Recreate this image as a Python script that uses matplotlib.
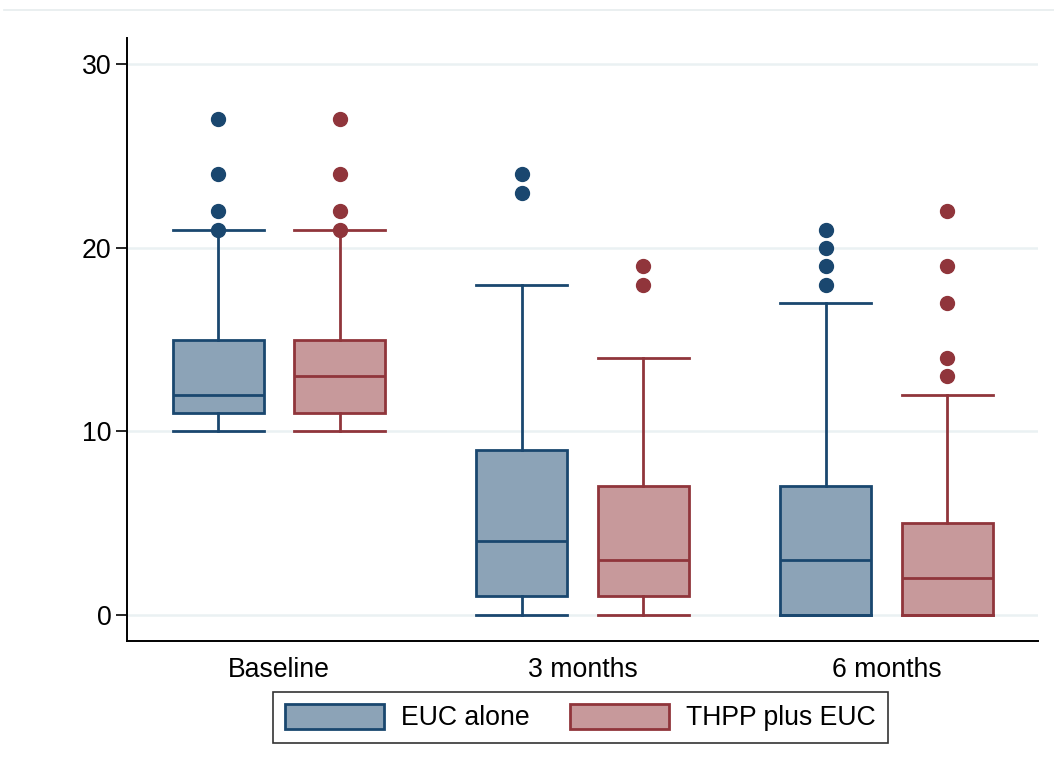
import matplotlib.pyplot as plt
from matplotlib.patches import Patch
from matplotlib.lines import Line2D

plt.rcParams['font.family'] = ['Liberation Sans', 'DejaVu Sans']

categories = ['Baseline', '3 months', '6 months']
groups = ['EUC alone', 'THPP plus EUC']

# five-number summaries: whislo, q1, med, q3, whishi
euc_stats = [(10, 11, 12, 15, 21), (0, 1, 4, 9, 18), (0, 0, 3, 7, 17)]
thpp_stats = [(10, 11, 13, 15, 21), (0, 1, 3, 7, 14), (0, 0, 2, 5, 12)]
euc_outliers = [[21, 22, 24, 27], [23, 24], [18, 19, 20, 21]]
thpp_outliers = [[21, 22, 24, 27], [18, 19], [13, 14, 17, 19, 22]]

edge_colors = ['#1a476f', '#90353b']
fill_colors = ['#8ca3b7', '#c7999b']

fig = plt.figure(figsize=(10.54, 7.72), dpi=100)
ax = fig.add_axes([0.1205, 0.170, 0.8645, 0.781])

offset = 0.2
for k, (stats, outs) in enumerate([(euc_stats, euc_outliers), (thpp_stats, thpp_outliers)]):
    bxp_stats = []
    for s, o in zip(stats, outs):
        bxp_stats.append(dict(whislo=s[0], q1=s[1], med=s[2], q3=s[3], whishi=s[4], fliers=o))
    pos = [i + (offset if k else -offset) for i in range(len(categories))]
    col = edge_colors[k]
    ax.bxp(bxp_stats, positions=pos, widths=0.30, patch_artist=True, capwidths=0.30,
           boxprops=dict(facecolor=fill_colors[k], edgecolor=col, linewidth=2.0),
           medianprops=dict(color=col, linewidth=2.0),
           whiskerprops=dict(color=col, linewidth=2.0),
           capprops=dict(color=col, linewidth=2.0),
           flierprops=dict(marker='o', markerfacecolor=col, markeredgecolor=col, markersize=10),
           manage_ticks=False, zorder=3)

ax.set_xlim(-0.5, 2.5)
ax.set_ylim(-1.42, 31.45)
ax.set_xticks(range(len(categories)))
ax.set_xticklabels(categories)
ax.set_yticks([0, 10, 20, 30])
ax.tick_params(axis='x', length=0, pad=12, labelsize=19.2)
ax.tick_params(axis='y', length=8, width=1.2, pad=3, labelsize=19.2)
ax.grid(axis='y', color='#eaf1f3', linewidth=1.8, zorder=0)
ax.set_axisbelow(True)
for sp in ['top', 'right']:
    ax.spines[sp].set_visible(False)
for sp in ['left', 'bottom']:
    ax.spines[sp].set_linewidth(1.4)

handles = [Patch(facecolor=fill_colors[i], edgecolor=edge_colors[i], linewidth=2.0, label=groups[i])
           for i in range(2)]
leg = fig.legend(handles=handles, loc='center', bbox_to_anchor=(0.5508, 0.0706), ncol=2,
                 fontsize=19.2, frameon=True, fancybox=False, edgecolor='black',
                 handlelength=3.7, handleheight=1.1, columnspacing=1.5, handletextpad=0.65,
                 borderpad=0.45, borderaxespad=0)
leg.get_frame().set_linewidth(1.2)

# faint outer border line at the top
fig.add_artist(Line2D([0.004, 1.0], [0.987, 0.987], color='#e6eced', linewidth=1.2))

fig.savefig('out.png', dpi=100, facecolor='white')
